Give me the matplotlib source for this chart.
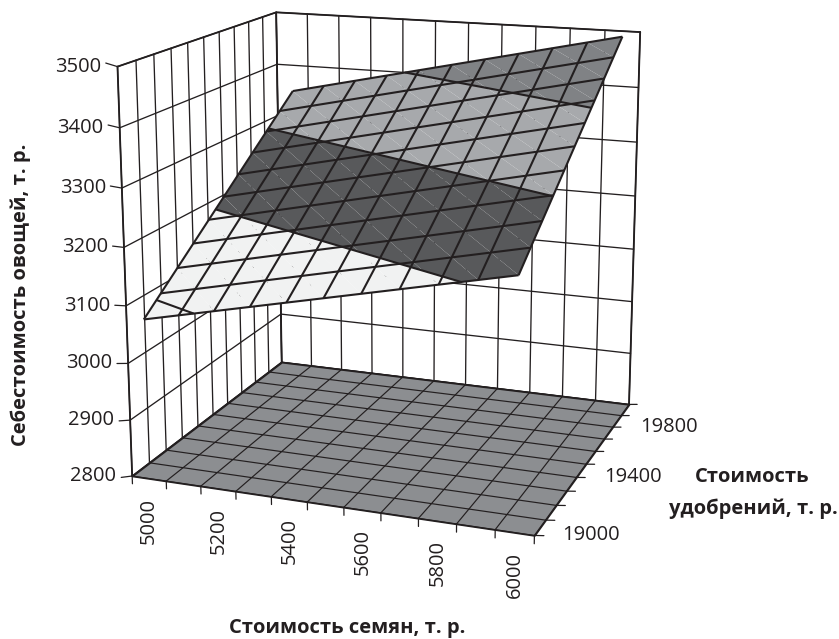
import numpy as np
import matplotlib
matplotlib.use("Agg")
import matplotlib.pyplot as plt
from mpl_toolkits.mplot3d.art3d import Poly3DCollection
from mpl_toolkits.mplot3d import proj3d

plt.rcParams['font.family'] = ['Open Sans', 'DejaVu Sans']

seed_cost = [5000, 5100, 5200, 5300, 5400, 5500, 5600, 5700, 5800, 5900, 6000]
fert_cost = [19000, 19100, 19200, 19300, 19400, 19500, 19600, 19700, 19800, 19900, 20000]
veg_cost = [
    [3080, 3094, 3108, 3122, 3136, 3150, 3164, 3178, 3192, 3206, 3220],
    [3107, 3121, 3135, 3149, 3163, 3177, 3191, 3205, 3219, 3233, 3247],
    [3134, 3148, 3162, 3176, 3190, 3204, 3218, 3232, 3246, 3260, 3274],
    [3161, 3175, 3189, 3203, 3217, 3231, 3245, 3259, 3273, 3287, 3301],
    [3188, 3202, 3216, 3230, 3244, 3258, 3272, 3286, 3300, 3314, 3328],
    [3215, 3229, 3243, 3257, 3271, 3285, 3299, 3313, 3327, 3341, 3355],
    [3242, 3256, 3270, 3284, 3298, 3312, 3326, 3340, 3354, 3368, 3382],
    [3269, 3283, 3297, 3311, 3325, 3339, 3353, 3367, 3381, 3395, 3409],
    [3296, 3310, 3324, 3338, 3352, 3366, 3380, 3394, 3408, 3422, 3436],
    [3323, 3337, 3351, 3365, 3379, 3393, 3407, 3421, 3435, 3449, 3463],
    [3350, 3364, 3378, 3392, 3406, 3420, 3434, 3448, 3462, 3476, 3490],
]
z_ticks = [2800, 2900, 3000, 3100, 3200, 3300, 3400, 3500]
x_labels = ['5000', '5200', '5400', '5600', '5800', '6000']
y_labels = ['19000', '19400', '19800']
levels = [2800, 3100, 3200, 3300, 3400, 3500]
band_colors = ['#f1f2f2', '#f1f2f2', '#58595b', '#a7a9ac', '#808285']
ink = '#231f20'
floor_color = '#8c8e91'

# seed categories sit between the tick marks, fertilizer ones on them
x_edges = [c - 50 for c in seed_cost] + [seed_cost[-1] + 50]
y_edges = fert_cost
x_lo, x_hi = x_edges[0], x_edges[-1]
y_lo, y_hi = y_edges[0], y_edges[-1]
z_lo, z_hi = z_ticks[0], z_ticks[-1]

fig = plt.figure(figsize=(8.39, 6.39), dpi=100)
ax = fig.add_axes([0, -100/639, 1, 839/639], projection='3d', computed_zorder=False)
ax.set_xlim(x_lo, x_hi, view_margin=0)
ax.set_ylim(y_lo, y_hi, view_margin=0)
ax.set_zlim(z_lo, z_hi, view_margin=0)
ax.set_axis_off()

# camera of the original chart
ax.view_init(14.5768, -69.6547, 0.0699)
ax.set_proj_type('persp', focal_length=0.5447)
ax.set_box_aspect((1.0708, 0.9573, 1))
ax.apply_aspect()
ax.viewLim.intervalx = (-0.11248, 0.12784)
ax.viewLim.intervaly = (-0.13267, 0.09419)

line = dict(color=ink, solid_capstyle='round')

# walls
for x in x_edges:
    ax.plot([x, x], [y_hi, y_hi], [z_lo, z_hi], lw=0.95, zorder=1, **line)
for y in y_edges:
    ax.plot([x_lo, x_lo], [y, y], [z_lo, z_hi], lw=0.95, zorder=1, **line)
for z in z_ticks:
    ax.plot([x_lo, x_lo, x_hi], [y_lo, y_hi, y_hi], [z, z, z], lw=0.95, zorder=1, **line)
ax.plot([x_lo, x_lo], [y_lo, y_lo], [z_lo, z_hi], lw=1.3, zorder=1, **line)
ax.plot([x_lo, x_lo], [y_hi, y_hi], [z_lo, z_hi], lw=1.3, zorder=1, **line)
ax.plot([x_hi, x_hi], [y_hi, y_hi], [z_lo, z_hi], lw=1.3, zorder=1, **line)
ax.plot([x_lo, x_lo, x_hi], [y_lo, y_hi, y_hi], [z_hi]*3, lw=1.3, zorder=1, **line)

# floor
floor = [[(x_lo, y_lo, z_lo), (x_hi, y_lo, z_lo), (x_hi, y_hi, z_lo), (x_lo, y_hi, z_lo)]]
ax.add_collection3d(Poly3DCollection(floor, facecolors=floor_color, edgecolors=ink, linewidths=1.2, zorder=2))
for x in x_edges:
    ax.plot([x, x], [y_lo, y_hi], [z_lo, z_lo], lw=0.85, zorder=2, **line)
for y in y_edges:
    ax.plot([x_lo, x_hi], [y, y], [z_lo, z_lo], lw=0.85, zorder=2, **line)

# tick marks
for x in x_edges:
    ax.plot([x, x], [y_lo, y_lo], [z_lo, z_lo - 14], lw=0.9, zorder=2, **line)
for y in y_edges:
    ax.plot([x_hi, x_hi + 24], [y, y], [z_lo, z_lo + 2], lw=0.9, zorder=2, **line)
for z in z_ticks:
    ax.plot([x_lo, x_lo], [y_lo, y_lo - 60], [z, z + 12], lw=0.9, zorder=2, **line)

# surface split in bands
X, Y = np.meshgrid(np.array(seed_cost, float), np.array(fert_cost, float))
Z = np.array(veg_cost, float)

def clip(tri, lo, hi):
    for sign, lim in ((1, lo), (-1, hi)):
        out = []
        for a, b in zip(tri, tri[1:] + tri[:1]):
            da, db = sign * (a[2] - lim), sign * (b[2] - lim)
            if da >= 0:
                out.append(a)
            if da * db < 0:
                u = da / (da - db)
                out.append(tuple(a[k] + u * (b[k] - a[k]) for k in range(3)))
        tri = out
        if not tri:
            break
    return tri

for lo, hi, col in zip(levels[:-1], levels[1:], band_colors):
    polys = []
    for j in range(Z.shape[0] - 1):
        for i in range(Z.shape[1] - 1):
            n = [(X[j+a, i+b], Y[j+a, i+b], Z[j+a, i+b]) for a, b in ((0, 0), (0, 1), (1, 1), (1, 0))]
            for tri in ([n[0], n[1], n[3]], [n[1], n[2], n[3]]):
                pg = clip(tri, lo, hi)
                if len(pg) > 2:
                    polys.append(pg)
    ax.add_collection3d(Poly3DCollection(polys, facecolors=col, edgecolors='none', zorder=3))

ax.plot_wireframe(X, Y, Z, rstride=1, cstride=1, color=ink, linewidth=1.5, zorder=4)
ax.contour(X, Y, Z, levels=levels[1:-1], colors=ink, linewidths=1.5, zorder=5)

# tick labels placed from the projected axis positions
def label_at(x, y, z, text, dx, dy, **kw):
    px, py, _ = proj3d.proj_transform(x, y, z, ax.get_proj())
    ax.annotate(text, (px, py), xytext=(dx, dy), textcoords='offset pixels', annotation_clip=False, **kw)

for z in z_ticks:
    label_at(x_lo, y_lo, z, str(z), -16, 0, ha='right', va='center', fontsize=14.5, color=ink)
for text, x in zip(x_labels, seed_cost[::2]):
    label_at(x, y_lo, z_lo, text, 0, -19, ha='center', va='top', rotation=90, fontsize=14.5, color=ink)
for text, y in zip(y_labels, fert_cost[::4]):
    label_at(x_hi, y, z_lo, text, 28, 0, ha='left', va='center', fontsize=14.5, color=ink)

fig.text(21/839, 1 - 295/639, 'Себестоимость овощей, т. р.', rotation=90, ha='center', va='center', fontweight='bold', fontsize=14.5, color=ink)
fig.text(347/839, 1 - 628/639, 'Стоимость семян, т. р.', ha='center', va='center', fontweight='bold', fontsize=14.5, color=ink)
fig.text(752/839, 1 - 477/639, 'Стоимость', ha='center', va='center', fontweight='bold', fontsize=14.5, color=ink)
fig.text(753/839, 1 - 509/639, 'удобрений, т. р.', ha='center', va='center', fontweight='bold', fontsize=14.5, color=ink)

fig.savefig("out.png", dpi=100)
